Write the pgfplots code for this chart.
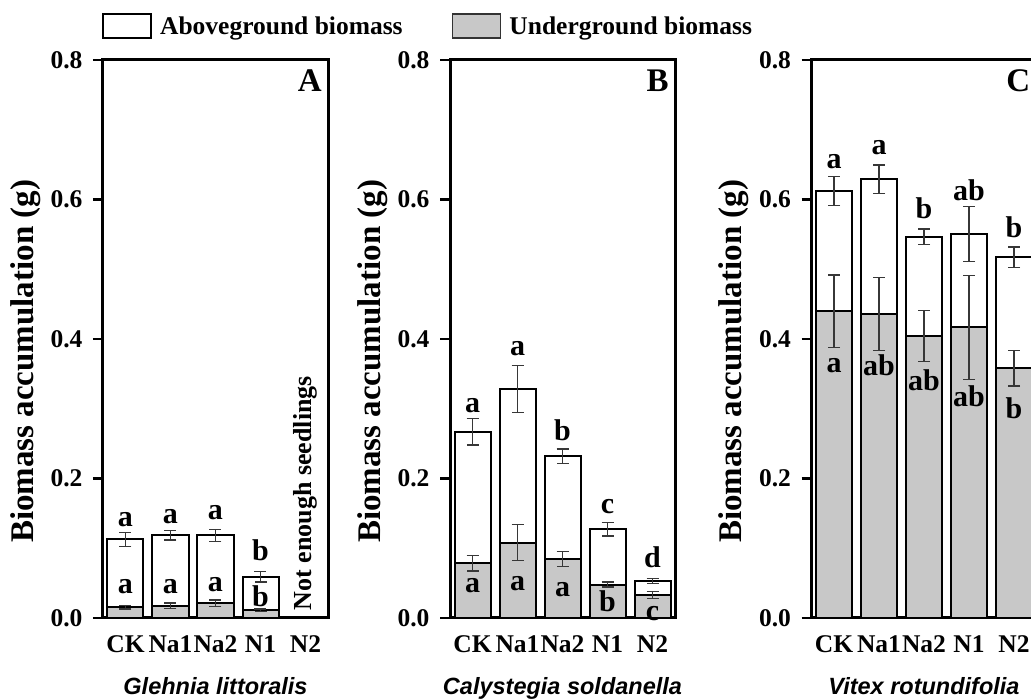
\documentclass[border=0pt]{standalone}
\usepackage{pgfplots}
\pgfplotsset{compat=1.18}
\usepackage{pgfplotstable}
\usepackage{fontspec}
\setmainfont{Liberation Serif}
\newfontfamily\arialfont{Liberation Sans}
\definecolor{ugray}{RGB}{200,200,200}
\definecolor{errc}{RGB}{55,55,55}

\pgfplotstableread{
x tot tote und unde
0 0.1128 0.0100 0.0153 0.0024
1 0.1185 0.0065 0.0177 0.0036
2 0.1185 0.0088 0.0210 0.0048
3 0.0588 0.0074 0.0110 0.0020
}\dataA
\pgfplotstableread{
x tot tote und unde
0 0.267 0.0190 0.0784 0.0112
1 0.328 0.0335 0.1080 0.0260
2 0.232 0.0103 0.0846 0.0110
3 0.127 0.0096 0.0480 0.0036
4 0.053 0.0033 0.0330 0.0053
}\dataB
\pgfplotstableread{
x tot tote und unde
0 0.6126 0.0208 0.4400 0.0519
1 0.6290 0.0203 0.4358 0.0526
2 0.5467 0.0108 0.4043 0.0363
3 0.5505 0.0394 0.4167 0.0743
4 0.5170 0.0148 0.3584 0.0256
}\dataC

\tikzset{
  lett/.style={font=\fontsize{30}{30}\selectfont\bfseries, anchor=base, inner sep=0pt},
  plab/.style={font=\fontsize{33}{33}\selectfont\bfseries, anchor=base east, inner sep=0pt},
}
\pgfplotsset{
  panel/.style={
    at={#1}, anchor=south west,
    scale only axis, width=225pt, height=558pt,
    ybar, bar width=36pt, bar shift=0pt,
    xmin=-0.5, xmax=4.5, ymin=0, ymax=0.8,
    xtick={0,1,2,3,4}, xticklabels={CK,Na1,Na2,N1,N2},
    ytick={0,0.2,0.4,0.6,0.8}, yticklabels={0.0,0.2,0.4,0.6,0.8},
    tick align=outside, tick pos=left,
    major tick length=10pt,
    x tick style={draw=none},
    y tick style={line width=2.5pt, black},
    axis line style={line width=3pt},
    ticklabel style={font=\fontsize{25.5}{25.5}\selectfont\bfseries},
    yticklabel style={xshift=-7pt},
    xticklabel style={yshift=-4pt},
    ylabel={Biomass accumulation (g)},
    ylabel style={at={(axis description cs:-0.345,0.46)}, anchor=center, font=\fontsize{33}{33}\selectfont\bfseries},
    xlabel style={at={(axis description cs:0.5,-0.138)}, anchor=base, font=\fontsize{23.5}{23.5}\selectfont\arialfont\bfseries\itshape},
    clip=false,
    error bars/y dir=both, error bars/y explicit,
    error bars/error bar style={line width=1.3pt, errc},
    error bars/error mark options={rotate=90, mark size=6pt, line width=1.3pt, errc},
  },
  topbar/.style={fill=white, draw=black, line width=2pt},
  botbar/.style={fill=ugray, draw=black, line width=2pt},
}

\begin{document}
\begin{tikzpicture}
\path[use as bounding box] (0,0) rectangle (1031pt,700pt);
\clip (0,0) rectangle (1031pt,700pt);

% Panel A
\begin{axis}[panel={(103pt,82pt)},
  xlabel={Glehnia littoralis},
  legend columns=2,
  legend style={at={(axis description cs:-0.004,1.061)}, anchor=west, draw=none, fill=none, inner sep=0pt,
    font=\fontsize{25.5}{25.5}\selectfont\bfseries,
    nodes={inner sep=0pt},
    /tikz/every odd column/.append style={column sep=8pt},
    /tikz/every even column/.append style={column sep=49pt}},
]
\addlegendimage{legend image code/.code={\draw[fill=white, draw=black, line width=1.8pt] (0pt,-12pt) rectangle (48pt,12pt);}}
\addlegendentry{Aboveground biomass}
\addlegendimage{legend image code/.code={\draw[fill=ugray, draw=black!80, line width=1.8pt] (0pt,-12pt) rectangle (48pt,12pt);}}
\addlegendentry{Underground biomass}
\addplot[topbar, forget plot] table[x=x, y=tot, y error=tote] {\dataA};
\addplot[botbar, forget plot] table[x=x, y=und, y error=unde] {\dataA};
\node[lett] at (axis cs:0,0.131) {a};
\node[lett] at (axis cs:1,0.136) {a};
\node[lett] at (axis cs:2,0.1405) {a};
\node[lett] at (axis cs:3,0.082) {b};
\node[lett] at (axis cs:0,0.0354) {a};
\node[lett] at (axis cs:1,0.0354) {a};
\node[lett] at (axis cs:2,0.0378) {a};
\node[lett] at (axis cs:3,0.0162) {b};
\node[rotate=90, anchor=west, inner sep=0pt, font=\fontsize{26}{26}\selectfont\bfseries] at (axis cs:4,0.011) {Not enough seedlings};
\node[plab] at (rel axis cs:0.973,0.943) {A};
\end{axis}

% Panel B
\begin{axis}[panel={(450pt,82pt)},
  xlabel={Calystegia soldanella},
]
\addplot[topbar] table[x=x, y=tot, y error=tote] {\dataB};
\addplot[botbar] table[x=x, y=und, y error=unde] {\dataB};
\node[lett] at (axis cs:0,0.294) {a};
\node[lett] at (axis cs:1,0.376) {a};
\node[lett] at (axis cs:2,0.255) {b};
\node[lett] at (axis cs:3,0.1505) {c};
\node[lett] at (axis cs:4,0.0717) {d};
\node[lett] at (axis cs:0,0.036) {a};
\node[lett] at (axis cs:1,0.040) {a};
\node[lett] at (axis cs:2,0.0306) {a};
\node[lett] at (axis cs:3,0.009) {b};
\node[lett] at (axis cs:4,-0.003) {c};
\node[plab] at (rel axis cs:0.973,0.943) {B};
\end{axis}

% Panel C
\begin{axis}[panel={(811.5pt,82pt)},
  xlabel={Vitex rotundifolia},
]
\addplot[topbar] table[x=x, y=tot, y error=tote] {\dataC};
\addplot[botbar] table[x=x, y=und, y error=unde] {\dataC};
\node[lett] at (axis cs:0,0.644) {a};
\node[lett] at (axis cs:1,0.664) {a};
\node[lett] at (axis cs:2,0.573) {b};
\node[lett] at (axis cs:3,0.599) {ab};
\node[lett] at (axis cs:4,0.545) {b};
\node[lett] at (axis cs:0,0.352) {a};
\node[lett] at (axis cs:1,0.348) {ab};
\node[lett] at (axis cs:2,0.326) {ab};
\node[lett] at (axis cs:3,0.303) {ab};
\node[lett] at (axis cs:4,0.286) {b};
\node[plab] at (rel axis cs:0.973,0.943) {C};
\end{axis}
\end{tikzpicture}
\end{document}
